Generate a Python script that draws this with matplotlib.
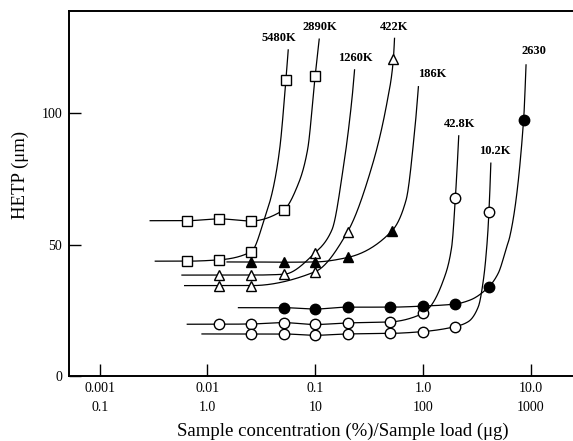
import numpy as np
import matplotlib
matplotlib.use("Agg")
import matplotlib.pyplot as plt

# ---------------------------------------------------------------------------
# Data (x = sample concentration %, y = HETP um)
# ---------------------------------------------------------------------------

labels = ["5480K", "2890K", "1260K", "422K", "186K", "42.8K", "10.2K", "2630"]

x_5480k = [0.00645, 0.0128, 0.0255, 0.0535]
y_5480k = [43.7, 44.2, 47.3, 112.7]

x_2890k = [0.00645, 0.0128, 0.0255, 0.051, 0.1]
y_2890k = [59.1, 59.8, 59.0, 63.2, 114.3]

x_1260k = [0.0128, 0.0255, 0.051, 0.1]
y_1260k = [38.4, 38.4, 38.7, 46.9]

x_422k = [0.0128, 0.0255, 0.1, 0.2, 0.532]
y_422k = [34.4, 34.4, 39.7, 54.9, 120.6]

x_186k = [0.0255, 0.051, 0.1, 0.2, 0.515]
y_186k = [43.4, 43.3, 43.4, 45.1, 55.2]

x_42k = [0.0128, 0.0255, 0.051, 0.1, 0.2, 0.5, 1.0, 2.0]
y_42k = [19.7, 19.8, 20.3, 19.6, 20.2, 20.6, 23.8, 67.8]

x_10k = [0.0255, 0.051, 0.1, 0.2, 0.5, 1.0, 2.0, 4.1]
y_10k = [16.0, 16.0, 15.5, 16.0, 16.2, 16.9, 18.8, 62.5]

x_2630 = [0.051, 0.1, 0.2, 0.5, 1.0, 2.0, 4.1, 8.6]
y_2630 = [26.0, 25.5, 26.2, 26.2, 26.6, 27.4, 34.0, 97.4]

# where each drawn curve starts (flat part) and where it ends at the top
line_start = [0.00328, 0.00294, 0.0058, 0.00614, 0.0152, 0.0065, 0.0089, 0.0194]
line_end_x = [0.0562, 0.109, 0.232, 0.545, 0.908, 2.15, 4.27, 9.06]
line_end_y = [124.1, 128.2, 116.5, 128.5, 110.1, 91.4, 81.0, 118.4]

# points the hand-drawn curves pass through between markers
guide_x = [[0.0343, 0.0400, 0.0467], [0.070, 0.0849], [0.143, 0.183, 0.219],
           [0.336, 0.469], [0.698, 0.834], [1.17, 1.55, 1.85],
           [2.64, 3.27, 3.64, 3.96], [2.74, 5.0, 6.0, 6.4]]
guide_y = [[60.6, 70.0, 86.0], [73.3, 86.0], [55.6, 79.7, 105.1],
           [79.7, 105.1], [67.0, 92.4], [26.4, 36.5, 49.2],
           [20.7, 26.4, 36.5, 51.8], [28.9, 39.1, 49.2, 53.0]]

xs = [x_5480k, x_2890k, x_1260k, x_422k, x_186k, x_42k, x_10k, x_2630]
ys = [y_5480k, y_2890k, y_1260k, y_422k, y_186k, y_42k, y_10k, y_2630]

# ---------------------------------------------------------------------------
# Styles
# ---------------------------------------------------------------------------

markers = ["s", "s", "^", "^", "^", "o", "o", "o"]
filled  = [False, False, False, False, True, False, False, True]

# label anchor (data coords)
label_pos = [(0.0464, 128.8), (0.111, 133.0), (0.235, 120.9), (0.535, 133.0),
             (1.21, 115.0), (2.20, 95.9), (4.68, 85.8), (10.8, 123.8)]

SERIF = ["Liberation Serif", "DejaVu Serif"]


def pchip(xk, yk, xq):
    """monotone cubic through the knots"""
    xk = np.asarray(xk, float)
    yk = np.asarray(yk, float)
    h = np.diff(xk)
    d = np.diff(yk) / h
    n = len(xk)
    m = np.zeros(n)
    for k in range(1, n - 1):
        if d[k - 1] * d[k] > 0:
            w1 = 2 * h[k] + h[k - 1]
            w2 = h[k] + 2 * h[k - 1]
            m[k] = (w1 + w2) / (w1 / d[k - 1] + w2 / d[k])
    def end(h0, h1, d0, d1):
        v = ((2 * h0 + h1) * d0 - h0 * d1) / (h0 + h1)
        if np.sign(v) != np.sign(d0):
            v = 0.0
        elif np.sign(d0) != np.sign(d1) and abs(v) > abs(3 * d0):
            v = 3 * d0
        return v
    if n > 2:
        m[0] = end(h[0], h[1], d[0], d[1])
        m[-1] = end(h[-1], h[-2], d[-1], d[-2])
    else:
        m[:] = d[0]
    idx = np.clip(np.searchsorted(xk, xq) - 1, 0, n - 2)
    t = (xq - xk[idx]) / h[idx]
    h00 = 2 * t**3 - 3 * t**2 + 1
    h10 = t**3 - 2 * t**2 + t
    h01 = -2 * t**3 + 3 * t**2
    h11 = t**3 - t**2
    return (h00 * yk[idx] + h10 * h[idx] * m[idx]
            + h01 * yk[idx + 1] + h11 * h[idx] * m[idx + 1])


# ---------------------------------------------------------------------------
# Plot
# ---------------------------------------------------------------------------

fig = plt.figure(figsize=(5.73, 4.41), dpi=100)
ax = fig.add_axes([69 / 573, 65 / 441, 504 / 573, 365 / 441])

for i in range(len(labels)):
    kx = [line_start[i]] + list(xs[i]) + guide_x[i] + [line_end_x[i]]
    ky = [ys[i][0]] + list(ys[i]) + guide_y[i] + [line_end_y[i]]
    order = np.argsort(kx)
    lk = np.log10(np.asarray(kx)[order])
    vk = np.asarray(ky)[order]
    lq = np.linspace(lk[0], lk[-1], 600)
    ax.plot(10**lq, pchip(lk, vk, lq), color="black", lw=0.9, zorder=2)

    ax.plot(xs[i], ys[i], linestyle="none", marker=markers[i],
            markersize=7.5 if markers[i] != "s" else 7,
            markerfacecolor="black" if filled[i] else "white",
            markeredgecolor="black", markeredgewidth=1.0, zorder=3)

    ax.text(label_pos[i][0], label_pos[i][1], labels[i], ha="center",
            va="center", fontsize=9, fontweight="bold", family=SERIF)

ax.set_xscale("log")
ax.set_xlim(10**-3.285, 10**1.393)
ax.set_ylim(0, 138.9)

ax.set_xticks([0.001, 0.01, 0.1, 1, 10])
ax.set_xticklabels(["0.001\n0.1", "0.01\n1.0", "0.1\n10", "1.0\n100", "10.0\n1000"])
ax.xaxis.set_minor_locator(matplotlib.ticker.NullLocator())
ax.set_yticks([0, 50, 100])
ax.set_yticklabels(["0", "50", "100"])

ax.tick_params(axis="both", direction="in", length=8.5, width=1.0,
               labelsize=10)
ax.tick_params(axis="x", pad=4)
ax.tick_params(axis="y", pad=5)
for lbl in ax.get_xticklabels() + ax.get_yticklabels():
    lbl.set_family(SERIF)
for lbl in ax.get_xticklabels():
    lbl.set_linespacing(1.6)

for side in ["left", "top", "bottom"]:
    ax.spines[side].set_linewidth(1.4)
ax.spines["right"].set_visible(False)

ax.set_xlabel("Sample concentration (%)/Sample load (\u03bcg)", fontsize=13.5,
              family=SERIF, va="center")
ax.xaxis.set_label_coords(0.544, -0.151)
ax.set_ylabel("HETP (\u03bcm)", fontsize=13.5, family=SERIF, va="center")
ax.yaxis.set_label_coords(-0.097, 0.55)

fig.savefig("out.png", dpi=100)
